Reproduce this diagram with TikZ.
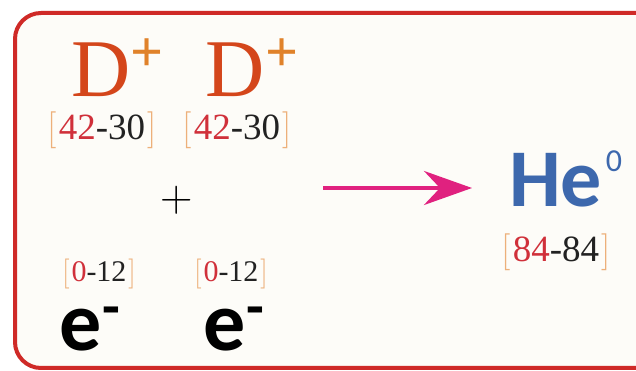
\documentclass[tikz,border=0pt]{standalone}
\usepackage{fontspec}
\newfontfamily\carlito{Carlito}
\newfontfamily\libser{Liberation Serif}
\usetikzlibrary{arrows.meta}
\definecolor{frame}{HTML}{CF2A27}
\definecolor{paper}{HTML}{FDFCF8}
\definecolor{dcol}{HTML}{D4461B}
\definecolor{pcol}{HTML}{E0822A}
\definecolor{brk}{HTML}{EDB07A}
\definecolor{rd}{HTML}{D0303A}
\definecolor{ink}{HTML}{222222}
\definecolor{hecol}{HTML}{3D68AD}
\definecolor{arr}{HTML}{E0217F}
\newcommand{\brlab}[2]{{\rmfamily\color{brk}[}\kern2pt{\color{rd}#1}{\color{ink}-#2}\kern2pt{\rmfamily\color{brk}]}}
\tikzset{
  txt/.style={inner sep=0pt, outer sep=0pt},
  dsym/.style={txt, anchor=base west, text=dcol, font=\libser\fontsize{82}{84}\selectfont},
  dplus/.style={txt, text=pcol, font=\libser\bfseries\fontsize{58}{60}\selectfont},
  bigl/.style={txt, anchor=base, font=\libser\fontsize{37}{40}\selectfont},
  smalll/.style={txt, anchor=base, font=\libser\fontsize{30}{34}\selectfont},
  esym/.style={txt, anchor=base west, text=black, font=\carlito\bfseries\fontsize{84}{86}\selectfont},
}
\newcommand{\emin}{\raisebox{24pt}{\fontsize{58}{60}\selectfont\kern1pt -}}
\begin{document}
\begin{tikzpicture}[x=1pt,y=1pt]
\clip (0,0) rectangle (636,371);
\fill[white] (0,0) rectangle (636,371);
\draw[frame, line width=4pt, fill=paper, rounded corners=26pt] (15,3) rectangle (700,358);
% D+ D+
\node[dsym] (d1) at (71,274) {D};
\node[dplus] (p1) at (147,316) {+};
\node[dsym] (d2) at (205,274) {D};
\node[dplus] (p2) at (282,316) {+};
\node[bigl] (l1) at (102,231) {\brlab{42}{30}};
\node[bigl] (l2) at (237,231) {\brlab{42}{30}};
% plus
\node[txt, font=\rmfamily\fontsize{45}{48}\selectfont] (plus) at (177,171) {+};
% electrons
\node[smalll] (l3) at (99,89) {\brlab{0}{12}};
\node[smalll] (l4) at (231,89) {\brlab{0}{12}};
\node[esym] (e1) at (59,20) {e\emin};
\node[esym] (e2) at (203,20) {e\emin};
% arrow
\coordinate (a0) at (323,183);
\coordinate (a1) at (472,183);
\draw[arr, line width=4pt, -{Stealth[length=48pt,width=34pt,inset=16pt]}] (a0) -- (a1);
% He
\node[txt, anchor=base west, text=hecol, font=\carlito\bfseries\fontsize{82}{86}\selectfont] (he) at (509,164) {He};
\node[txt, text=hecol, font=\carlito\fontsize{32}{34}\selectfont] (z) at (614,210) {0};
\node[bigl] (l5) at (556,109) {\brlab{84}{84}};
\end{tikzpicture}
\end{document}
